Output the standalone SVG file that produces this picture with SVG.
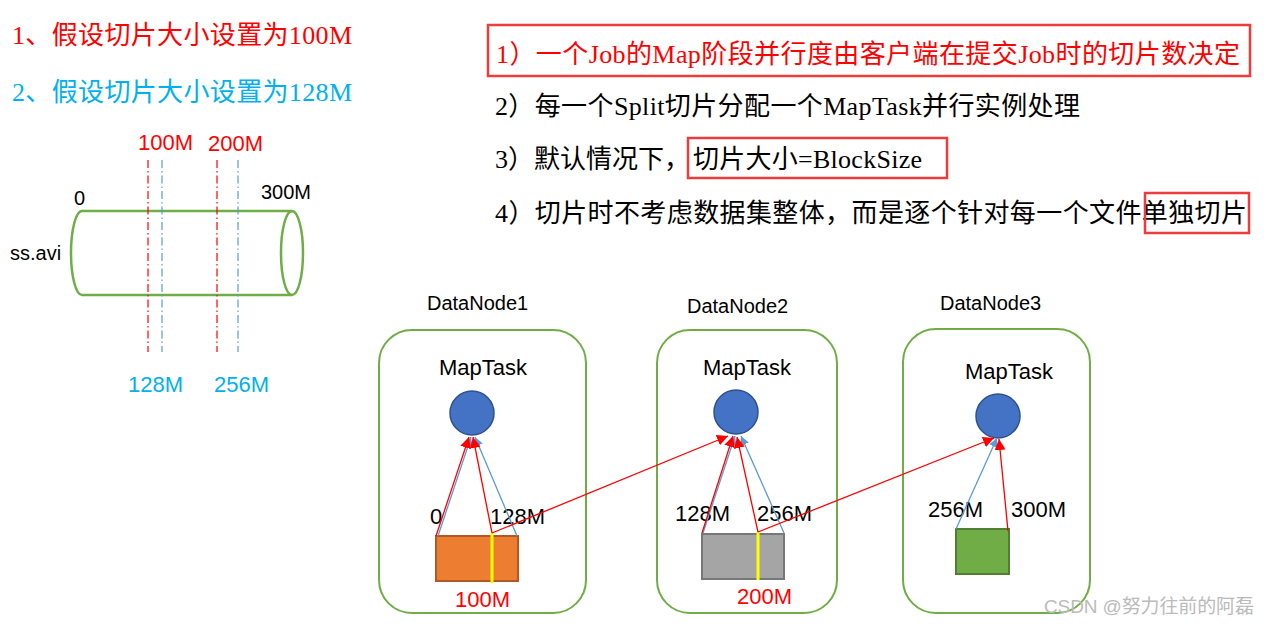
<svg xmlns="http://www.w3.org/2000/svg" width="1270" height="626" viewBox="0 0 1270 626">
<style>
.cjk{font-family:"Liberation Serif","Noto Sans CJK SC",serif;font-size:26px}
.sans{font-family:"Liberation Sans","Noto Sans CJK SC",sans-serif}
.lbl{font-size:22px;fill:#000}
.red{fill:#FF0000}
.cyan{fill:#00B0F0}
.box{fill:none;stroke:#EE3B3B;stroke-width:2.5}
.node{fill:#FFFFFF;stroke:#70AD47;stroke-width:2}
.task{fill:#4472C4;stroke:#2F528F;stroke-width:1.5}
.ar{stroke:#FF0000;stroke-width:1.3;fill:none}
.ab{stroke:#5B9BD5;stroke-width:1.3;fill:none}
.dr{stroke:#FF0000;stroke-width:1.2;stroke-dasharray:8 3 1.5 3}
.db{stroke:#5B9BD5;stroke-width:1.2;stroke-dasharray:8 3 1.5 3}
</style>
<defs>
<marker id="mr" viewBox="0 0 10 10" refX="10" refY="5" markerWidth="11" markerHeight="11" markerUnits="userSpaceOnUse" orient="auto"><path d="M0,0 L10,5 L0,10 z" fill="#FF0000"/></marker>
<marker id="mb" viewBox="0 0 10 10" refX="10" refY="5" markerWidth="9" markerHeight="9" markerUnits="userSpaceOnUse" orient="auto"><path d="M0,0 L10,5 L0,10 z" fill="#5B9BD5"/></marker>
</defs>
<rect width="1270" height="626" fill="#FFFFFF"/>

<g id="title-left">
<text class="cjk red" x="12" y="44" textLength="340">1、假设切片大小设置为100M</text>
<text class="cjk cyan" x="12" y="101" textLength="340">2、假设切片大小设置为128M</text>
</g>

<g id="file-cylinder">
<path d="M82,211 L292,211 M82,295 L292,295 M82,211 A11,42 0 0 0 82,295" fill="none" stroke="#70AD47" stroke-width="2.5"/>
<ellipse cx="292" cy="253" rx="11" ry="42" fill="none" stroke="#70AD47" stroke-width="2.5"/>
<line class="dr" x1="148" y1="160" x2="148" y2="352"/>
<line class="db" x1="162" y1="160" x2="162" y2="352"/>
<line class="dr" x1="217" y1="160" x2="217" y2="352"/>
<line class="db" x1="238" y1="160" x2="238" y2="352"/>
<text class="sans" x="74" y="205" font-size="20">0</text>
<text class="sans" x="261" y="199" font-size="20">300M</text>
<text class="sans" x="10" y="260" font-size="20">ss.avi</text>
<text class="sans red" x="138" y="150" font-size="22">100M</text>
<text class="sans red" x="208" y="151" font-size="22">200M</text>
<text class="sans cyan" x="128" y="392" font-size="22">128M</text>
<text class="sans cyan" x="214" y="392" font-size="22">256M</text>
</g>

<g id="rules">
<rect class="box" x="488" y="25" width="762" height="51"/>
<text class="cjk red" x="496" y="63" textLength="744">1）一个Job的Map阶段并行度由客户端在提交Job时的切片数决定</text>
<text class="cjk" x="495" y="115" textLength="585">2）每一个Split切片分配一个MapTask并行实例处理</text>
<text class="cjk" x="495" y="168">3）默认情况下，</text>
<rect class="box" x="688" y="138" width="259" height="40"/>
<text class="cjk" x="693" y="168" textLength="229">切片大小=BlockSize</text>
<text class="cjk" x="495" y="222" textLength="752">4）切片时不考虑数据集整体，而是逐个针对每一个文件单独切片</text>
<rect class="box" x="1145" y="193" width="104" height="40"/>
</g>

<g id="datanode1">
<text class="sans" x="427" y="310" font-size="20">DataNode1</text>
<rect class="node" x="379" y="330" width="207" height="283" rx="33"/>
<text class="sans lbl" x="439" y="375">MapTask</text>
<circle class="task" cx="472" cy="413" r="22"/>
<rect x="436" y="536" width="82" height="45" fill="#ED7D31" stroke="#AE5A21" stroke-width="2"/>
<line x1="492" y1="533" x2="492" y2="583" stroke="#FFFF00" stroke-width="3"/>
<text class="sans lbl" x="430" y="524">0</text>
<text class="sans lbl" x="490" y="524">128M</text>
<text class="sans lbl red" x="455" y="607">100M</text>
</g>

<g id="datanode2">
<text class="sans" x="687" y="313" font-size="20">DataNode2</text>
<rect class="node" x="657" y="330" width="180" height="283" rx="33"/>
<text class="sans lbl" x="703" y="375">MapTask</text>
<circle class="task" cx="736" cy="412" r="22"/>
<rect x="702" y="534" width="82" height="45" fill="#A5A5A5" stroke="#787878" stroke-width="2"/>
<line x1="758" y1="532" x2="758" y2="580" stroke="#FFFF00" stroke-width="3"/>
<text class="sans lbl" x="675" y="521">128M</text>
<text class="sans lbl" x="757" y="521">256M</text>
<text class="sans lbl red" x="737" y="604">200M</text>
</g>

<g id="datanode3">
<text class="sans" x="940" y="310" font-size="20">DataNode3</text>
<rect class="node" x="903" y="329" width="187" height="284" rx="33"/>
<text class="sans lbl" x="965" y="379">MapTask</text>
<circle class="task" cx="998" cy="416" r="22"/>
<rect x="956" y="529" width="53" height="45" fill="#70AD47" stroke="#507E32" stroke-width="2"/>
<text class="sans lbl" x="928" y="517">256M</text>
<text class="sans lbl" x="1011" y="517">300M</text>
</g>

<g id="connectors">
<line class="ab" x1="438" y1="536" x2="471" y2="437" marker-end="url(#mb)"/>
<line class="ab" x1="517" y1="536" x2="475" y2="437" marker-end="url(#mb)"/>
<line class="ar" x1="436" y1="536" x2="469" y2="437" marker-end="url(#mr)"/>
<line class="ar" x1="492" y1="533" x2="473" y2="437" marker-end="url(#mr)"/>
<line class="ar" x1="492" y1="533" x2="728" y2="436" marker-end="url(#mr)"/>
<line class="ab" x1="703" y1="533" x2="735" y2="436" marker-end="url(#mb)"/>
<line class="ab" x1="784" y1="533" x2="741" y2="436" marker-end="url(#mb)"/>
<line class="ar" x1="702" y1="533" x2="733" y2="436" marker-end="url(#mr)"/>
<line class="ar" x1="758" y1="532" x2="737" y2="437" marker-end="url(#mr)"/>
<line class="ar" x1="758" y1="532" x2="994" y2="438" marker-end="url(#mr)"/>
<line class="ab" x1="956" y1="529" x2="997" y2="438" marker-end="url(#mb)"/>
<line class="ar" x1="1008" y1="531" x2="999" y2="439" marker-end="url(#mr)"/>
</g>

<text class="sans" x="1044" y="613" font-size="19" fill="#BBBBBB" textLength="210">CSDN @努力往前的阿磊</text>
</svg>
